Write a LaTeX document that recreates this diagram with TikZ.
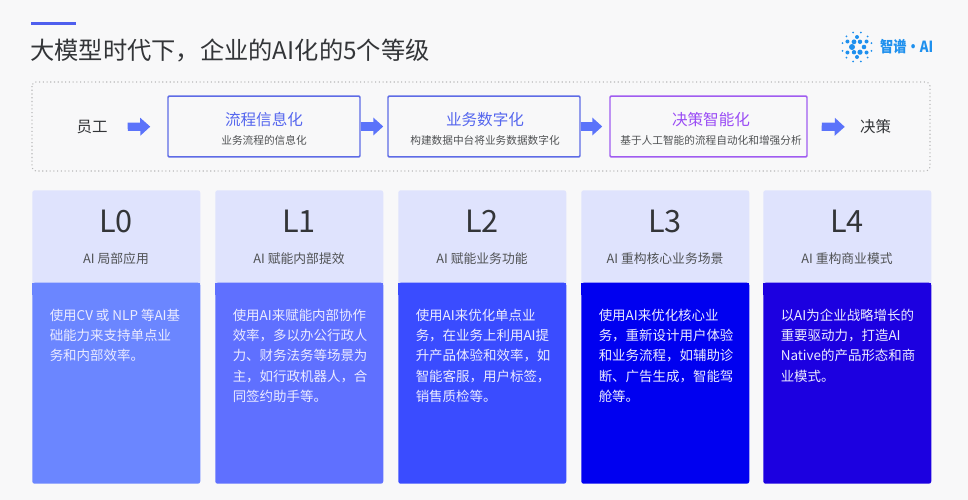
\documentclass[tikz,border=0pt]{standalone}
\usepackage{fontspec}
\usetikzlibrary{arrows.meta}
\setmainfont{Noto Sans CJK SC}[Scale=1]
\definecolor{bgc}{HTML}{F8F8F9}
\definecolor{accent}{HTML}{4F5FEE}
\definecolor{arrowc}{HTML}{5B73FA}
\definecolor{boxblue}{HTML}{5E6BE6}
\definecolor{boxpurple}{HTML}{A05CF0}
\definecolor{titleblue}{HTML}{5566EE}
\definecolor{titlepurple}{HTML}{9A4CF5}
\definecolor{headc}{HTML}{DFE3FD}
\definecolor{inkc}{HTML}{333538}
\definecolor{greyc}{HTML}{505254}
\definecolor{logoc}{HTML}{1E90EE}
\definecolor{lz}{HTML}{6B86FF}
\definecolor{lo}{HTML}{5F70FF}
\definecolor{lt}{HTML}{3A4CFF}
\definecolor{lh}{HTML}{0000F0}
\definecolor{lf}{HTML}{1C00E0}
\tikzset{
  x=0.75pt,y=-0.75pt,
  flowbox/.style={draw=boxblue,line width=1.1pt,fill=bgc,rounded corners=0.8pt,minimum height=45.5pt,inner sep=0pt},
  flowtext/.style={font=\fontsize{11.6pt}{14pt}\selectfont,text=inkc,inner sep=0pt},
  flowtitle/.style={font=\fontsize{11.7pt}{14pt}\selectfont,inner sep=0pt},
  flowsub/.style={font=\fontsize{8pt}{10pt}\selectfont,text=greyc,inner sep=0pt},
  blockarrow/.style={draw=arrowc,line width=6.2pt,-{Triangle[length=7.5pt,width=13pt]}},
  headbox/.style={fill=headc,inner sep=0pt,minimum width=126pt,minimum height=72pt,anchor=north west,rounded corners=1.8pt},
  bodybox/.style={inner sep=0pt,minimum width=126pt,minimum height=150.75pt,anchor=south west,rounded corners=1.8pt},
  levelname/.style={font=\fontsize{23pt}{26pt}\selectfont,text=inkc,inner sep=0pt},
  levelsub/.style={font=\fontsize{9.6pt}{12pt}\selectfont,text=greyc,inner sep=0pt},
  bodytext/.style={font=\fontsize{10.1pt}{15.25pt}\selectfont,text=white!92!blue,inner sep=0pt,align=left,anchor=north west},
  logodot/.style={fill=logoc,draw=none},
}
\begin{document}
\begin{tikzpicture}
\useasboundingbox[fill=bgc] (0,0) rectangle (968,500);
% accent bar and title
\fill[accent] (31,21.5) rectangle (76,24.5);
\node[anchor=west,inner sep=0pt,text=inkc,font=\fontsize{18.2pt}{22pt}\selectfont] (title) at (30,50) {大模型时代下，企业的AI化的5个等级};
% logo
\foreach \a/\r/\s in {0/7/2.3,60/6/2.2,120/6/2.4,180/5/3,240/6/2.2,300/6/2.6,30/11/2,90/10/2,150/11/2,210/11/2,270/10/2,330/11/2,15/15/1,45/15/1,75/15/1,105/15/1,135/15/1,165/15/1,195/15/1,225/15/1,255/15/1,285/15/1,315/15/1,345/15/1}
  \fill[logodot] (857,47) ++(\a:\r*0.75pt) circle[radius=\s*0.75pt];
\node[anchor=west,inner sep=0pt,text=logoc,font=\fontsize{11.5pt}{14pt}\selectfont\bfseries,xscale=.86,transform shape] (logo) at (880,47) {智谱·AI};
% process container
\draw[gray!55,line width=.8pt,dotted,rounded corners=3pt] (32,82) rectangle (930,171);
\node[flowtext] (yg) at (92,127) {员工};
\node[flowbox,minimum width=144pt] (b1) at (264,126.5) {};
\node[flowbox,minimum width=144pt] (b2) at (484,126.5) {};
\node[flowbox,draw=boxpurple,minimum width=147.75pt] (b3) at (708.5,126.5) {};
\node[flowtext] (jc) at (875.5,127) {决策};
\node[flowtitle,text=titleblue] (t1) at (264,119.5) {流程信息化};
\node[flowsub] (s1) at (264,140) {业务流程的信息化};
\node[flowtitle,text=titleblue] (t2) at (485,119.5) {业务数字化};
\node[flowsub] (s2) at (485,140) {构建数据中台将业务数据数字化};
\node[flowtitle,text=titlepurple] (t3) at (711,119.5) {决策智能化};
\node[flowsub] (s3) at (711,140) {基于人工智能的流程自动化和增强分析};
\draw[blockarrow,shorten <=15pt,shorten >=12.75pt] (yg.east) -- (b1.west);
\draw[blockarrow,shorten >=3pt] (b1.east) -- (b2.west);
\draw[blockarrow,shorten >=5.25pt] (b2.east) -- (b3.west);
\draw[blockarrow,shorten <=10.5pt,shorten >=11.25pt] (b3.east) -- (jc.west);
% level cards
\foreach \n/\x/\c/\l/\s/\t in {
  a/32/lz/L0/AI 局部应用/{使用CV 或 NLP 等AI基\\础能力来支持单点业\\务和内部效率。},
  b/215/lo/L1/AI 赋能内部提效/{使用AI来赋能内部协作\\效率，多以办公行政人\\力、财务法务等场景为\\主，如行政机器人，合\\同签约助手等。},
  c/398/lt/L2/AI 赋能业务功能/{使用AI来优化单点业\\务，在业务上利用AI提\\升产品体验和效率，如\\智能客服，用户标签，\\销售质检等。},
  d/581/lh/L3/AI 重构核心业务场景/{使用AI来优化核心业\\务，重新设计用户体验\\和业务流程，如辅助诊\\断、广告生成，智能驾\\舱等。},
  e/763/lf/L4/AI 重构商业模式/{以AI为企业战略增长的\\重要驱动力，打造AI\\Native的产品形态和商\\业模式。}}{
  \node[headbox] (h\n) at (\x,190) {};
  \node[bodybox,fill=\c] (m\n) at (\x,484) {};
  \fill[\c] (\x,283) rectangle (\x+168,295);
  \node[levelname] (l\n) at (\x+84,221) {\l};
  \node[levelsub] (s\n) at (\x+84,258.5) {\s};
  \node[bodytext] (x\n) at (\x+17.5,308.5) {\t};
}
\end{tikzpicture}
\end{document}
